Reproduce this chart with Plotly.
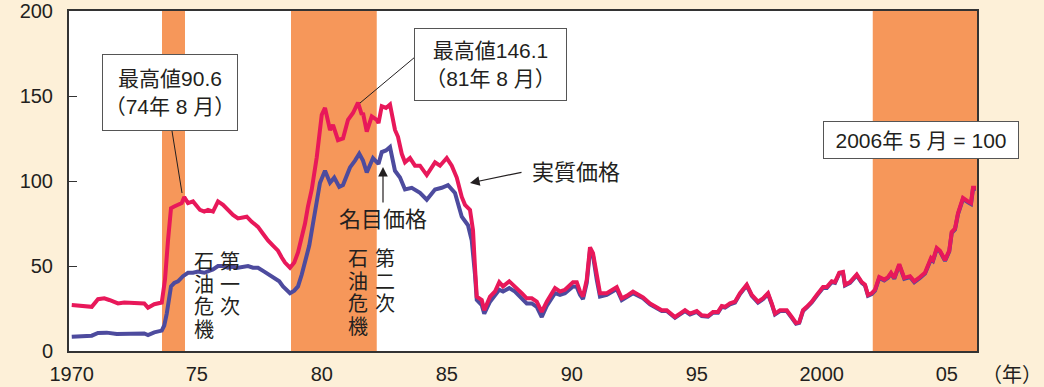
import plotly.graph_objects as go

# real price (実質価格), 2006/5 = 100
real_x = [1970.0, 1970.4, 1970.8, 1971.05, 1971.3, 1971.5, 1971.85, 1972.1, 1972.5, 1972.9,
          1973.05, 1973.3, 1973.6, 1973.73, 1973.85, 1973.97, 1974.1, 1974.25, 1974.4, 1974.5,
          1974.65, 1974.85, 1975.13, 1975.3, 1975.45, 1975.65, 1975.85, 1976.05, 1976.25, 1976.45,
          1976.65, 1976.85, 1977.0, 1977.2, 1977.45, 1977.65, 1977.85, 1978.05, 1978.25, 1978.4,
          1978.53, 1978.73, 1978.9, 1979.05, 1979.2, 1979.33, 1979.45, 1979.6, 1979.8, 1980.0,
          1980.13, 1980.33, 1980.45, 1980.65, 1980.85, 1981.05, 1981.25, 1981.45, 1981.6, 1981.65,
          1981.8, 1982.0, 1982.2, 1982.27, 1982.4, 1982.57, 1982.73, 1982.93, 1983.05, 1983.2,
          1983.33, 1983.53, 1983.73, 1983.93, 1984.2, 1984.53, 1984.73, 1985.0, 1985.2, 1985.4,
          1985.6, 1985.73, 1985.93, 1986.05, 1986.13, 1986.2, 1986.4, 1986.5, 1986.73, 1986.93,
          1987.1, 1987.25, 1987.5, 1987.73, 1988.0, 1988.2, 1988.4, 1988.6, 1988.8, 1989.0,
          1989.33, 1989.53, 1989.73, 1990.05, 1990.2, 1990.33, 1990.45, 1990.6, 1990.73, 1990.85,
          1991.0, 1991.13, 1991.4, 1991.8, 1992.0, 1992.2, 1992.45, 1992.65, 1992.85, 1993.13,
          1993.6, 1993.8, 1994.13, 1994.33, 1994.53, 1994.73, 1995.0, 1995.2, 1995.45, 1995.65,
          1995.85, 1996.0, 1996.13, 1996.33, 1996.53, 1996.73, 1996.85, 1997.0, 1997.2, 1997.45,
          1997.65, 1997.85, 1998.0, 1998.13, 1998.33, 1998.6, 1998.8, 1998.97, 1999.1, 1999.25,
          1999.4, 1999.6, 1999.8, 2000.05, 2000.2, 2000.4, 2000.53, 2000.7, 2000.85, 2000.93,
          2001.13, 2001.4, 2001.6, 2001.73, 2001.85, 2002.0, 2002.13, 2002.3, 2002.5, 2002.65,
          2002.77, 2002.9, 2003.1, 2003.3, 2003.53, 2003.7, 2003.93, 2004.13, 2004.37, 2004.45,
          2004.6, 2004.73, 2004.93, 2005.1, 2005.2, 2005.33, 2005.45, 2005.65, 2005.85, 2005.97,
          2006.05, 2006.17]
real = [27, 26.5, 26, 30.5, 31, 30, 28, 28.5, 28.4, 28,
        25.5, 27.5, 28.5, 42, 65, 84, 85, 86, 87, 90.6,
        87, 88, 83, 82, 83, 82, 88, 86, 83, 80,
        78, 78.5, 79, 76, 73, 69, 65, 62, 59, 55,
        52, 49, 52, 58, 66, 75, 85, 95, 114, 139,
        143, 130, 133, 124, 125, 136, 140, 146.1, 139, 140,
        129, 138, 136, 134, 144, 143, 145, 130, 126, 116,
        111, 113.5, 109, 109, 103.5, 111, 109, 113.5, 109, 102,
        90.6, 86, 83, 71, 49, 32, 30, 24, 32, 35,
        40.5, 38, 41, 38, 34, 31, 31, 29, 23, 29,
        37, 35, 36, 40.5, 40.5, 35, 32, 42, 61, 57.5,
        43.5, 34, 34, 37.6, 31, 32.4, 35, 33, 31.6, 28,
        24, 24, 20, 22, 24, 22, 23.5, 21, 20.6, 23,
        23, 26.5, 26, 28, 29, 34, 36, 39, 33, 29,
        31, 34, 28, 22, 24, 24, 20, 16.5, 17, 24,
        26, 29, 33, 37.6, 37.6, 41, 40.5, 46, 46.5, 39,
        40.5, 45, 40.5, 39, 33, 34, 36, 43.5, 42, 43.5,
        46, 43, 51, 43, 44, 41, 43.5, 46, 54.7, 53.5,
        60.6, 59, 53.5, 59, 70, 72, 81, 90, 88, 87,
        96, 96]

# nominal price (名目価格), 2006/5 = 100
nominal_x = [1970.0, 1970.5, 1970.8, 1971.05, 1971.4, 1971.8, 1972.2, 1972.6, 1972.9, 1973.05,
             1973.3, 1973.6, 1973.7, 1973.8, 1973.9, 1973.97, 1974.1, 1974.25, 1974.45, 1974.65,
             1974.85, 1975.05, 1975.3, 1975.45, 1975.65, 1975.85, 1976.05, 1976.25, 1976.45, 1976.65,
             1976.85, 1977.05, 1977.25, 1977.45, 1977.7, 1977.9, 1978.1, 1978.3, 1978.45, 1978.6,
             1978.73, 1978.9, 1979.05, 1979.2, 1979.33, 1979.5, 1979.65, 1979.8, 1979.93, 1980.13,
             1980.33, 1980.5, 1980.7, 1980.85, 1981.13, 1981.33, 1981.5, 1981.65, 1981.8, 1982.05,
             1982.27, 1982.4, 1982.57, 1982.73, 1982.93, 1983.13, 1983.33, 1983.6, 1983.93, 1984.2,
             1984.53, 1984.8, 1985.05, 1985.33, 1985.6, 1985.85, 1986.0, 1986.13, 1986.2, 1986.4,
             1986.5, 1986.73, 1986.93, 1987.1, 1987.25, 1987.5, 1987.73, 1988.0, 1988.2, 1988.4,
             1988.6, 1988.8, 1989.0, 1989.33, 1989.53, 1989.73, 1990.05, 1990.2, 1990.33, 1990.45,
             1990.6, 1990.73, 1990.85, 1991.0, 1991.13, 1991.4, 1991.8, 1992.0, 1992.2, 1992.45,
             1992.65, 1992.85, 1993.13, 1993.6, 1993.8, 1994.13, 1994.33, 1994.53, 1994.73, 1995.0,
             1995.2, 1995.45, 1995.65, 1995.85, 1996.0, 1996.13, 1996.33, 1996.53, 1996.73, 1996.85,
             1997.0, 1997.2, 1997.45, 1997.65, 1997.85, 1998.0, 1998.13, 1998.33, 1998.6, 1998.8,
             1998.97, 1999.1, 1999.25, 1999.4, 1999.6, 1999.8, 2000.05, 2000.2, 2000.4, 2000.53,
             2000.7, 2000.85, 2000.93, 2001.13, 2001.4, 2001.6, 2001.73, 2001.85, 2002.0, 2002.13,
             2002.3, 2002.5, 2002.65, 2002.77, 2002.9, 2003.1, 2003.3, 2003.53, 2003.7, 2003.93,
             2004.13, 2004.37, 2004.45, 2004.6, 2004.73, 2004.93, 2005.1, 2005.2, 2005.33, 2005.45,
             2005.65, 2005.85, 2005.97, 2006.05, 2006.17]
nominal = [8.4, 8.5, 9, 10.6, 10.8, 10, 10.2, 10.4, 10.3, 9.4,
           11, 12, 15, 22, 32, 38, 40, 41, 44, 46,
           46, 46.7, 46, 46.7, 48, 50, 50, 49, 49.5, 49,
           49.5, 50, 49, 49, 46.7, 45, 43, 41, 38, 36,
           34, 35.5, 38, 45, 52.5, 62, 75, 88, 99, 106,
           99, 102, 96.5, 97.6, 108, 112, 116, 112, 105, 113.5,
           110, 117, 118, 120, 106, 102, 95, 96, 93, 89,
           95, 96, 97.6, 93, 79, 74, 65, 45, 30, 27,
           22, 29, 33, 36, 35, 37, 35, 31, 28, 28,
           26, 20, 26.5, 34, 33, 34, 38, 37.6, 33, 30.5,
           40, 59, 56, 42, 32, 33, 36.5, 30, 31.5, 34,
           32.5, 31, 27.5, 23.5, 23.5, 19.5, 21.5, 23.5, 21.5, 23,
           20.5, 20.2, 22.5, 22.5, 26, 25.5, 27.5, 28.5, 33.5, 35.5,
           38.5, 32.5, 28.5, 30.5, 33.5, 27.5, 21.5, 23.5, 23.5, 19.5,
           16, 16.5, 23.5, 25.5, 28.5, 32.5, 37, 37, 40.5, 40,
           45.5, 46, 38.5, 40, 44.5, 40, 38.5, 32.5, 33.5, 35.5,
           43, 41.5, 43, 45.5, 42.5, 50.5, 42.5, 43.5, 40.5, 43,
           45.5, 54, 53, 60, 58.5, 53, 58.5, 69.5, 71.5, 80.5,
           89.5, 87.5, 86.5, 95.5, 95.5]

# oil shock periods shaded orange
band_start = [1973.61, 1978.77, 2002.04]
band_end = [1974.53, 1982.2, 2006.3]

tick_vals = [1970, 1975, 1980, 1985, 1990, 1995, 2000, 2005]
tick_text = ["1970", "75", "80", "85", "90", "95", "2000", "05"]

BG = "#fdf0d8"
ORANGE = "#f6975a"
RED = "#e8185a"
BLUE = "#4d4b9e"
INK = "#231f20"
FONT = "Liberation Sans, Noto Sans CJK JP, sans-serif"

# plot box in pixels
L, R, T, B = 69, 977, 11, 351


def px(x):
    return (x - L) / (R - L)


def py(y):
    return (B - y) / (B - T)


fig = go.Figure()
fig.add_trace(go.Scatter(x=nominal_x, y=nominal, mode="lines", name="名目価格",
                         line=dict(color=BLUE, width=4)))
fig.add_trace(go.Scatter(x=real_x, y=real, mode="lines", name="実質価格",
                         line=dict(color=RED, width=4)))

for s, e in zip(band_start, band_end):
    fig.add_shape(type="rect", xref="x", yref="paper", x0=s, x1=e, y0=0, y1=1,
                  fillcolor=ORANGE, line_width=0, layer="below")

# leader lines of the peak boxes
fig.add_shape(type="line", xref="paper", yref="paper", x0=px(172), y0=py(131),
              x1=px(182), y1=py(193), line=dict(color=INK, width=1))
fig.add_shape(type="line", xref="paper", yref="paper", x0=px(415), y0=py(57),
              x1=px(360), y1=py(103), line=dict(color=INK, width=1))

boxes = [
    ("最高値90.6<br>（74年 8 月）", 170, 92, 130, 71),
    ("最高値146.1<br>（81年 8 月）", 490.5, 64.5, 147, 67),
    ("2006年 5 月 = 100", 921, 140, 190, 32),
]
for txt, cx, cy, w, h in boxes:
    fig.add_annotation(text=txt, xref="paper", yref="paper", x=px(cx), y=py(cy),
                       xanchor="center", yanchor="middle", showarrow=False,
                       width=w, height=h, bgcolor="white", bordercolor="#555",
                       borderwidth=1, borderpad=2, font=dict(size=21, color=INK, family=FONT))

# labels with arrows
fig.add_annotation(text="実質価格", xref="paper", yref="paper", x=px(530), y=py(172),
                   xanchor="left", yanchor="middle", showarrow=False,
                   font=dict(size=22, color=INK, family=FONT))
fig.add_annotation(text="", xref="paper", yref="paper", x=px(470), y=py(183),
                   ax=53, ay=-11, showarrow=True, arrowhead=2, arrowsize=1.6,
                   arrowwidth=1.2, arrowcolor=INK)
fig.add_annotation(text="名目価格", xref="paper", yref="paper", x=px(383), y=py(219),
                   xanchor="center", yanchor="middle", showarrow=False,
                   font=dict(size=22, color=INK, family=FONT))
fig.add_annotation(text="", xref="paper", yref="paper", x=px(383), y=py(167),
                   ax=0, ay=37, showarrow=True, arrowhead=2, arrowsize=1.6,
                   arrowwidth=1.2, arrowcolor=INK)

# vertical captions
columns = [
    ("石油危機", 204, 262),
    ("第一次", 230, 262),
    ("石油危機", 358, 259),
    ("第二次", 385, 259),
]
for chars, cx, y0 in columns:
    for i, ch in enumerate(chars):
        fig.add_annotation(text=ch, xref="paper", yref="paper", x=px(cx), y=py(y0 + i * 22.5),
                           xanchor="center", yanchor="middle", showarrow=False,
                           font=dict(size=20, color=INK, family=FONT))

fig.add_annotation(text="（年）", xref="paper", yref="paper", x=px(1012), y=py(375),
                   xanchor="center", yanchor="middle", showarrow=False,
                   font=dict(size=20, color=INK, family=FONT))

fig.update_layout(
    width=1044, height=387,
    margin=dict(l=L, r=1044 - R, t=T, b=387 - B),
    paper_bgcolor=BG, plot_bgcolor="white",
    showlegend=False,
    font=dict(family=FONT, size=20, color=INK),
)
fig.update_xaxes(range=[1969.89, 2006.21], tickvals=tick_vals, ticktext=tick_text,
                 ticks="", showgrid=False, zeroline=False, showline=True, mirror=True,
                 linecolor="#333", linewidth=2, ticklabelstandoff=4, automargin=False)
fig.update_yaxes(range=[0, 200], tickvals=[0, 50, 100, 150, 200], ticks="inside",
                 ticklen=8, tickcolor="#333", showgrid=False, zeroline=False, showline=True,
                 mirror=True, linecolor="#333", linewidth=2, ticklabelstandoff=10,
                 automargin=False)

# page body has a default 8px margin, drop it so the figure fills the window
fig.write_html("out.html", config={"displayModeBar": False},
               post_script="document.body.style.margin='0px';")
